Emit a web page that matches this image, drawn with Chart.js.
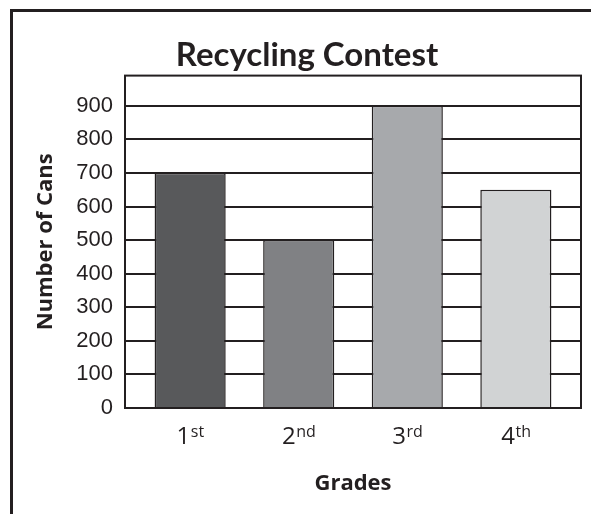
<!DOCTYPE html>
<html>
<head>
<meta charset="utf-8">
<script src="https://cdn.jsdelivr.net/npm/chart.js@4.4.1/dist/chart.umd.min.js"></script>
<style>
    html, body { margin: 0; padding: 0; background: #fff; }
    body { width: 591px; height: 514px; position: relative; overflow: hidden; }
    #frame {
        position: absolute; left: 10px; top: 9px; width: 700px; height: 700px;
        border: 3px solid #231f20; box-sizing: border-box;
    }
    #wrap { position: absolute; left: 0; top: 0; width: 591px; height: 514px; }
</style>
</head>
<body>
<div id="frame"></div>
<div id="wrap"><canvas id="recyclingChart"></canvas></div>
<script>
// chart data
const grades = ['1', '2', '3', '4'];
const gradeSuffixes = ['st', 'nd', 'rd', 'th'];
const cans = [700, 500, 900, 650];
const yTicks = [0, 100, 200, 300, 400, 500, 600, 700, 800, 900];

const barColors = ['#58595b', '#808184', '#a7a9ac', '#d1d3d4'];
const ink = '#231f20';

document.addEventListener('DOMContentLoaded', () => {
    const canvas = document.getElementById('recyclingChart');

    // plot frame (top + right edges) and superscript grade labels
    const frameAndLabels = {
        id: 'frameAndLabels',
        afterDatasetsDraw(chart) {
            const ctx = chart.ctx;
            const area = chart.chartArea;
            ctx.save();
            ctx.strokeStyle = ink;
            ctx.lineWidth = 2;
            ctx.strokeRect(area.left, area.top, area.right - area.left, area.bottom - area.top);
            ctx.restore();
        },
        afterDraw(chart) {
            const ctx = chart.ctx;
            const xScale = chart.scales.x;
            ctx.save();
            ctx.fillStyle = ink;
            ctx.textBaseline = 'alphabetic';
            grades.forEach((g, i) => {
                const cx = xScale.getPixelForValue(i + 1);
                ctx.font = '24px "Open Sans"';
                const w1 = ctx.measureText(g).width;
                ctx.font = '16px "Open Sans"';
                const w2 = ctx.measureText(gradeSuffixes[i]).width;
                const start = cx - (w1 + w2) / 2;
                ctx.font = '24px "Open Sans"';
                ctx.fillText(g, start, 444);
                ctx.font = '16px "Open Sans"';
                ctx.fillText(gradeSuffixes[i], start + w1 + 0.5, 437);
            });
            ctx.restore();
        }
    };

    new Chart(canvas, {
        type: 'bar',
        data: {
            datasets: [{
                label: 'Number of Cans',
                data: cans.map((v, i) => ({ x: i + 1, y: v })),
                backgroundColor: barColors,
                borderColor: ink,
                borderWidth: 1.5,
                barPercentage: 0.655,
                categoryPercentage: 1,
            }]
        },
        options: {
            responsive: true,
            maintainAspectRatio: false,
            animation: false,
            layout: {
                padding: { left: 33, right: 10, top: 0, bottom: 0 }
            },
            scales: {
                x: {
                    type: 'linear',
                    min: 0.4,
                    max: 4.6,
                    offset: false,
                    afterBuildTicks: function (scale) {
                        scale.ticks = grades.map((g, i) => ({ value: i + 1 }));
                    },
                    grid: { display: false, drawTicks: false },
                    border: { display: true, color: ink, width: 2 },
                    ticks: { display: false },
                    title: {
                        display: true,
                        text: 'Grades',
                        color: ink,
                        font: { family: '"Open Sans"', size: 22, weight: 'bold' },
                        padding: { top: 0, bottom: 17 }
                    },
                    afterFit: function (scale) {
                        scale.height = 106;
                    }
                },
                y: {
                    min: 0,
                    max: 990,
                    afterBuildTicks: function (scale) {
                        scale.ticks = yTicks.map(v => ({ value: v }));
                    },
                    grid: { color: ink, lineWidth: 2, drawTicks: false },
                    border: { display: true, color: ink, width: 2 },
                    ticks: {
                        color: ink,
                        padding: 12,
                        font: { family: '"Liberation Sans", Arial', size: 22 }
                    },
                    title: {
                        display: true,
                        text: 'Number of Cans',
                        color: ink,
                        font: { family: '"Open Sans"', size: 22, weight: 'bold' },
                        padding: { top: 0, bottom: 0 }
                    },
                    afterFit: function (scale) {
                        scale.width = 92;
                    }
                }
            },
            plugins: {
                legend: { display: false },
                tooltip: { enabled: false },
                title: {
                    display: true,
                    text: 'Recycling Contest',
                    color: ink,
                    font: { family: 'Lato', size: 33, weight: 'bold' },
                    padding: { top: 36, bottom: 0 }
                }
            }
        },
        plugins: [frameAndLabels]
    });
});
</script>
</body>
</html>
